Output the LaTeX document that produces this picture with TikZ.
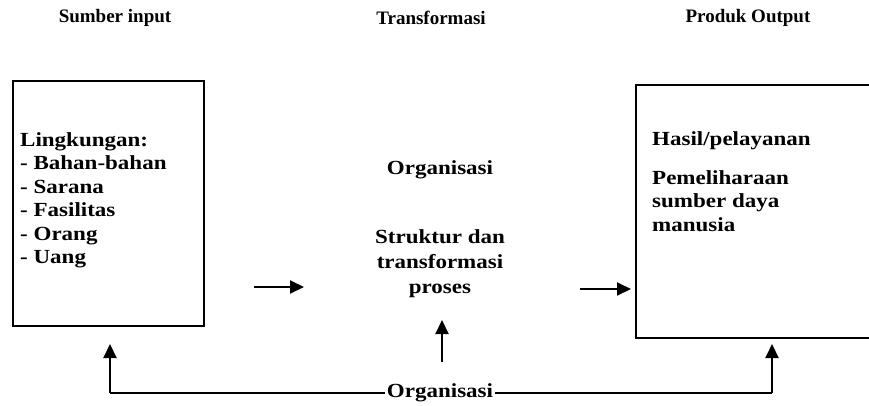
\documentclass[tikz,border=0pt]{standalone}
\usepackage{fontspec}
\setmainfont{Liberation Serif}
\newfontfamily\bodyfont{Liberation Serif}[UprightFont=* Bold,FakeStretch=1.15]
\newfontfamily\headfont{Liberation Serif}[UprightFont=* Bold]
\usetikzlibrary{arrows.meta}
\begin{document}
\begin{tikzpicture}[x=1pt,y=-1pt,
  txt/.style={inner sep=0pt,font=\bodyfont\fontsize{20}{23.5}\selectfont},
  mid/.style={inner sep=0pt,font=\bodyfont\fontsize{20}{25}\selectfont},
  head/.style={inner sep=0pt,font=\headfont\fontsize{19}{22}\selectfont},
  frame/.style={draw,line width=1.6pt},
  arr/.style={line width=2pt,-{Triangle[length=14pt,width=13pt]}},
  link/.style={line width=1.6pt}]
\useasboundingbox (0,0) rectangle (869,406);

% column headings
\node[head] (hsrc) at (115,18) {Sumber input};
\node[head] (htrf) at (431,18) {Transformasi};
\node[head] (hout) at (748,18) {Produk Output};

% input box
\node[frame,anchor=north west,minimum width=191pt,minimum height=245pt] (src) at (12,80) {};
\node[txt,anchor=north west,align=left] (srctxt) at (20,132) {Lingkungan:\\- Bahan-bahan\\- Sarana\\- Fasilitas\\- Orang\\- Uang};

% output box, running off the right edge
\coordinate (outtop) at (636,85);
\coordinate (outbot) at (636,338);
\draw[frame] (875,85) -- (outtop) -- (outbot) -- (875,338);
\node[txt,anchor=north west,align=left] (res) at (652,131) {Hasil/pelayanan};
\node[txt,anchor=north west,align=left] (hrm) at (652,170) {Pemeliharaan\\sumber daya\\manusia};

% transformation
\node[mid] (org) at (440,170) {Organisasi};
\node[mid,align=center,anchor=north] (proc) at (440,229) {Struktur dan\\transformasi\\proses};

% flow arrows
\coordinate (a1) at (254,287);
\coordinate (a2) at (304,287);
\coordinate (b1) at (580,289);
\coordinate (b2) at (631,289);
\draw[arr] (a1) -- (a2);
\draw[arr] (b1) -- (b2);

% feedback loop
\node[txt,fill=white,inner xsep=2pt] (fb) at (440,393) {Organisasi};
\coordinate (up1) at (442,362);
\coordinate (up2) at (442,320);
\draw[arr] (up1) -- (up2);
\coordinate (fl) at (110,393);
\coordinate (fr) at (772,393);
\coordinate (flt) at (110,344);
\coordinate (frt) at (772,344);
\draw[link] (fb.west) -- (fl);
\draw[arr] (fl) -- (flt);
\draw[link] (fb.east) -- (fr);
\draw[arr] (fr) -- (frt);
\end{tikzpicture}
\end{document}
